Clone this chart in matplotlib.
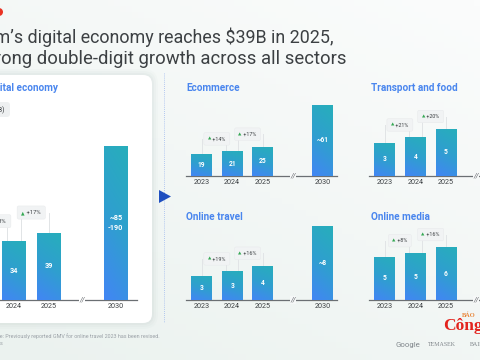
import numpy as np
import matplotlib.pyplot as plt
from matplotlib.patches import FancyBboxPatch, Polygon, Circle
from matplotlib.colors import LinearSegmentedColormap

plt.rcParams['font.family'] = ['Roboto', 'DejaVu Sans']

W, H = 480, 360

# ---- data ----
years = ['2023', '2024', '2025', '2030']
xpos = [0, 1, 2, 3.95]          # 2030 sits after the axis break

total_vals = [30, 34, 39, 89]
total_labels = ['30', '34', '39', '~85\n-190']
total_growth = ['+13%', '+17%']

ecom_vals = [19, 21, 25, 61]
ecom_labels = ['19', '21', '25', '~61']
ecom_growth = ['+14%', '+17%']

transport_vals = [3.5, 4.1, 5.0]
transport_labels = ['3', '4', '5']
transport_growth = ['+21%', '+20%']

travel_vals = [2.6, 3.1, 3.7, 8.0]
travel_labels = ['3', '3', '4', '~8']
travel_growth = ['+19%', '+16%']

media_vals = [4.9, 5.3, 6.0]
media_labels = ['5', '5', '6']
media_growth = ['+8%', '+16%']

BG = '#f5f7f7'
BLUE_T = '#4a86ee'
DARK = '#3c4043'
GREY = '#5f6368'

fig = plt.figure(figsize=(4.8, 3.6), dpi=100)
fig.patch.set_facecolor(BG)

# background layer in pixel coords
bg = fig.add_axes([0, 0, 1, 1], zorder=-5)
bg.set_xlim(0, W)
bg.set_ylim(H, 0)
bg.axis('off')
gy, gx = np.mgrid[0:1:60j, 0:1:80j]
shade = 0.6 * gy + 0.4 * (1 - gx)
bg.imshow(shade, extent=[0, W, H, 0], cmap=LinearSegmentedColormap.from_list('b', ['#fbfcfc', '#ebf2ef']),
          aspect='auto', zorder=0)

# card with soft shadow
for k, a in zip([6, 4, 2], [0.04, 0.05, 0.07]):
    bg.add_patch(FancyBboxPatch((-30 - k, 75 - k), 182 + 2 * k, 248 + 2 * k,
                                boxstyle='round,pad=0,rounding_size=%d' % (9 + k),
                                fc='#9fb3ad', ec='none', alpha=a, zorder=1))
bg.add_patch(FancyBboxPatch((-30, 75), 182, 248, boxstyle='round,pad=0,rounding_size=9',
                            fc='white', ec='none', zorder=2))
bg.add_patch(FancyBboxPatch((-60, 102), 70, 15, boxstyle='round,pad=0,rounding_size=3',
                            fc='#eef0f1', ec='none', zorder=3))
bg.text(4, 110, 'GMV ($B)', ha='right', va='center', fontsize=5, color=DARK, zorder=4)

# divider and arrow
bg.plot([164, 164], [73, 322], ls=(0, (1, 1.5)), color='#9db8ee', lw=0.6, zorder=2)
bg.add_patch(Polygon([[159, 190], [159, 203], [171, 196.5]], closed=True, fc='#1f4fc0', ec='none', zorder=3))
bg.add_patch(Circle((-1, 12), 4, fc='#ea3323', ec='none', zorder=3))

# titles
bg.text(334, 43, 'Vietnam’s digital economy reaches $39B in 2025,', ha='right', va='baseline',
        fontsize=12.9, color=DARK)
bg.text(347, 64, 'with strong double-digit growth across all sectors', ha='right', va='baseline',
        fontsize=13.3, color=DARK)

# footer
bg.text(160, 336, 'Note: Previously reported GMV for online travel 2023 has been revised.',
        ha='right', va='center', fontsize=3.9, color='#9aa0a6')
bg.text(3, 344, 'Source: e-Conomy SEA 2025 analysis', ha='right', va='center', fontsize=3.9, color='#9aa0a6')
bg.text(395, 345, 'Google', ha='left', va='center', fontsize=5.6, color='#80868b')
bg.text(428, 345, 'TEMASEK', ha='left', va='center', fontsize=4.3, color='#80868b',
        family=['Liberation Serif', 'DejaVu Serif'])
bg.text(470, 345, 'BAIN', ha='left', va='center', fontsize=4.3, color='#80868b',
        family=['Liberation Serif', 'DejaVu Serif'])
bg.text(462, 315, 'BÁO', ha='left', va='center', fontsize=4.6, color='#e8863a', fontweight='bold',
        family=['Liberation Serif', 'DejaVu Serif'])
bg.text(443, 326, 'Công', ha='left', va='center', fontsize=12.5, color='#e3231d', fontweight='bold',
        family=['Liberation Serif', 'DejaVu Serif'])

cmap = LinearSegmentedColormap.from_list('bar', ['#4286f4', '#2f9fcf', '#27aebb'])
gi, gj = np.mgrid[0:1:50j, 0:1:20j]
grad = 0.8 * gi + 0.2 * gj


def panel(vals, labels, growth, cx0, sx, base, sy, L, R, T,
          off_px=12.5, fs_val=4.8, fs_year=5.2, fs_g=3.9, brk=True, cover='#f6f8f8'):
    ax = fig.add_axes([L / W, (H - base) / H, (R - L) / W, (base - T) / H])
    n = len(vals)
    xs = xpos[:n]
    wbar = 0.68
    bars = ax.bar(xs, vals, width=wbar, color='#3a90e0', ec='none', zorder=2)
    for b, x, v in zip(bars, xs, vals):
        im = ax.imshow(grad, extent=[x - wbar / 2, x + wbar / 2, 0, v], origin='lower',
                       cmap=cmap, aspect='auto', zorder=3)
        im.set_clip_path(b)
    for x, v, lab in zip(xs, vals, labels):
        ax.text(x, v / 2, lab, ha='center', va='center', color='white', fontsize=fs_val,
                fontweight='bold', zorder=5, linespacing=1.3)
    # growth tags between consecutive bars
    for i, g in enumerate(growth):
        if i + 1 >= n:
            break
        ytag = max(vals[i], vals[i + 1]) + off_px / sy
        xl = xs[i] + (0.3 * wbar if i > 0 else 0)
        xr = xs[i + 1] - (0.3 * wbar if i + 1 < 2 else 0)
        ax.plot([xl, xl], [vals[i], ytag], color='#e1e4e6', lw=0.7, zorder=1, clip_on=False)
        ax.plot([xr, xr], [vals[i + 1], ytag], color='#e1e4e6', lw=0.7, zorder=1, clip_on=False)
        xm = (xs[i] + xs[i + 1]) / 2
        box = ax.text(xm, ytag, '▲ ' + g, ha='center', va='center', fontsize=fs_g, color=(0, 0, 0, 0),
                      bbox=dict(boxstyle='round,pad=0.7,rounding_size=0.3', fc='#f1f3f4', ec='#e6e8ea', lw=0.3),
                      zorder=6, clip_on=False)
        tri = ax.annotate('▲', xy=(0, 0.5), xycoords=box, ha='left', va='center',
                          fontsize=fs_g * 0.8, color='#34a853', zorder=7, annotation_clip=False)
        ax.annotate(' ' + g, xy=(1, 0.5), xycoords=tri, ha='left', va='center',
                    fontsize=fs_g, color=DARK, zorder=7, annotation_clip=False)
    if brk:
        xb = (xpos[2] + xpos[3]) / 2
        ax.text(xb, 0, '//', ha='center', va='center', fontsize=5, color=GREY, zorder=8,
                style='italic', bbox=dict(fc=cover, ec='none', pad=0.4))
    ax.set_xticks(xs, years[:n])
    ax.tick_params(axis='x', length=0, pad=2.5, labelsize=fs_year, labelcolor=DARK)
    ax.set_yticks([])
    for s in ['top', 'right', 'left']:
        ax.spines[s].set_visible(False)
    ax.spines['bottom'].set_color('#6b6f73')
    ax.spines['bottom'].set_linewidth(0.9)
    ax.patch.set_alpha(0)
    ax.set_xlim((L - cx0) / sx, (R - cx0) / sx)
    ax.set_ylim(0, (base - T) / sy)
    return ax


def panel_title(text, x, y, ha='left'):
    bg.text(x, y, text, ha=ha, va='center', fontsize=7.2, fontweight='bold', color=BLUE_T)


panel(total_vals, total_labels, total_growth, -20.5, 34.5, 300, 1.73, -45, 137, 130,
      off_px=20, fs_val=5.2, fs_g=4.2, cover='white')
panel_title('Digital economy', 58, 88, ha='right')

panel(ecom_vals, ecom_labels, ecom_growth, 201.5, 30.7, 175.7, 1.16, 186, 337, 95)
panel_title('Ecommerce', 186, 88)
panel(transport_vals, transport_labels, transport_growth, 384.5, 30.75, 175.7, 9.34, 369, 485, 95)
panel_title('Transport and food', 371, 88)
panel(travel_vals, travel_labels, travel_growth, 201.5, 30.7, 300, 9.25, 186, 337, 215)
panel_title('Online travel', 186, 217)
panel(media_vals, media_labels, media_growth, 384.5, 30.75, 300, 8.83, 369, 485, 215)
panel_title('Online media', 371, 217)

fig.savefig('out.png', dpi=100, facecolor=fig.get_facecolor())
